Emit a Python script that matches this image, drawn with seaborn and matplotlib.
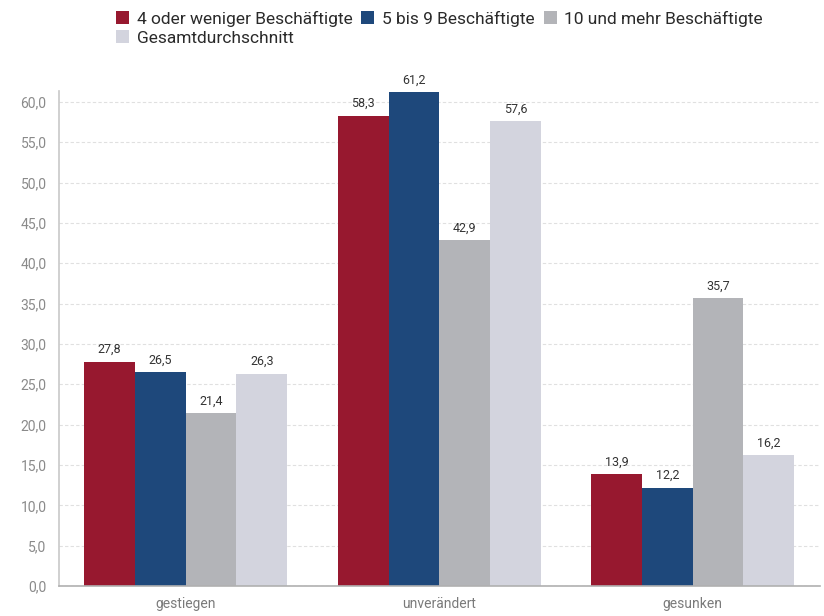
import matplotlib
matplotlib.use("Agg")
import matplotlib.pyplot as plt
from matplotlib.patches import Patch
import seaborn as sns
import pandas as pd

categories = ["gestiegen", "unverändert", "gesunken"]
series_names = ["4 oder weniger Beschäftigte", "5 bis 9 Beschäftigte",
                "10 und mehr Beschäftigte", "Gesamtdurchschnitt"]
small = [27.8, 58.3, 13.9]
medium = [26.5, 61.2, 12.2]
large = [21.4, 42.9, 35.7]
overall = [26.3, 57.6, 16.2]
yticks = [0, 5, 10, 15, 20, 25, 30, 35, 40, 45, 50, 55, 60]

colors = ["#97182F", "#1E487B", "#B3B4B8", "#D3D4DE"]

rows = []
for name, vals in zip(series_names, [small, medium, large, overall]):
    for cat, v in zip(categories, vals):
        rows.append({"Kategorie": cat, "Gruppe": name, "Wert": v})
df = pd.DataFrame(rows)

sns.set_theme(style="white")
plt.rcParams["font.family"] = ["Roboto", "DejaVu Sans"]

fig = plt.figure(figsize=(8.24, 6.16), dpi=100)
ax = fig.add_axes([0.0716, 0.0487, 0.923, 0.803])

sns.barplot(data=df, x="Kategorie", y="Wert", hue="Gruppe",
            order=categories, hue_order=series_names, palette=colors,
            width=0.8, saturation=1, errorbar=None, ax=ax, legend=False,
            linewidth=0)

ax.set_xlim(-0.5, 2.5)
ax.set_ylim(0, 61.3)
ax.set_yticks(yticks)
ax.set_yticklabels([f"{t:.1f}".replace(".", ",") for t in yticks],
                   color="#8A8A8A", fontsize=10)
ax.set_xlabel("")
ax.set_ylabel("")
ax.tick_params(axis="x", length=0, labelsize=10, labelcolor="#7A7A7A", pad=8)
ax.tick_params(axis="y", length=5, color="#DDDDDD", width=0.8, pad=4)

ax.yaxis.grid(True, linestyle=(0, (3, 2)), color="#E0E0E0", linewidth=0.8)
ax.set_axisbelow(True)
for side in ["top", "right"]:
    ax.spines[side].set_visible(False)
ax.spines["left"].set_color("#C8C8C8")
ax.spines["left"].set_linewidth(1.2)
ax.spines["bottom"].set_color("#B0B0B0")
ax.spines["bottom"].set_linewidth(1.2)

for cont in ax.containers:
    labels = [f"{v:.1f}".replace(".", ",") for v in cont.datavalues]
    ax.bar_label(cont, labels=labels, padding=4, fontsize=9, color="#333333")

handles = [Patch(facecolor=c, edgecolor="none") for c in colors]
order = [0, 3, 1, 2]
fig.legend([handles[i] for i in order], [series_names[i] for i in order],
           loc="upper left", bbox_to_anchor=(0.122, 1.008), ncol=3,
           frameon=False, fontsize=12.5, handlelength=0.75, handleheight=0.75,
           handletextpad=0.45, columnspacing=0.5, labelspacing=0.2,
           labelcolor="#2A2A2A")

fig.savefig("out.png", dpi=100)
